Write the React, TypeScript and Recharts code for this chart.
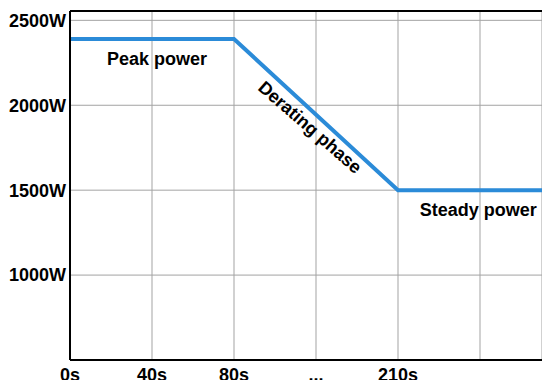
import {
  CartesianGrid,
  Label,
  Line,
  LineChart,
  ReferenceDot,
  ReferenceLine,
  XAxis,
  YAxis,
} from "recharts";

const TIME_STEPS = [0, 2, 4, 5.756];
const POWER_W = [2390, 2390, 1500, 1500];

const X_TICKS = [0, 1, 2, 3, 4, 5];
const X_LABELS = ["0s", "40s", "80s", "...", "210s", ""];
const Y_TICKS = [1000, 1500, 2000, 2500];

const X_MAX = 5.756;
const Y_MIN = 500;
const Y_MAX = 2555;

const NOTES = [
  { t: 1.06, p: 2275, text: "Peak power", angle: 0 },
  { t: 2.93, p: 1872, text: "Derating phase", angle: 41 },
  { t: 4.98, p: 1383, text: "Steady power", angle: 0 },
];

const FONT = "'Liberation Sans', Arial, sans-serif";
const tickStyle = { fontFamily: FONT, fontWeight: 700, fontSize: 18, fill: "#000" };

export default function App() {
  const data = TIME_STEPS.map((t, i) => ({ t, p: POWER_W[i] }));

  return (
    <div style={{ position: "absolute", left: 0, top: 0, width: 542, height: 380, background: "#fff" }}>
      <LineChart width={542} height={380} data={data} margin={{ top: 11, right: 0, bottom: 0, left: 0 }}>
        <CartesianGrid stroke="#a3a3a3" strokeWidth={1} />
        <XAxis
          dataKey="t"
          type="number"
          domain={[0, X_MAX]}
          ticks={X_TICKS}
          tickFormatter={(v: number) => X_LABELS[X_TICKS.indexOf(v)] ?? ""}
          height={20}
          tickLine={false}
          axisLine={{ stroke: "#000", strokeWidth: 2 }}
          tick={tickStyle}
          interval={0}
        />
        <YAxis
          type="number"
          domain={[Y_MIN, Y_MAX]}
          ticks={Y_TICKS}
          tickFormatter={(v: number) => `${v}W`}
          width={70}
          tickLine={false}
          tickSize={0}
          tickMargin={4}
          axisLine={{ stroke: "#000", strokeWidth: 2 }}
          tick={tickStyle}
          interval={0}
        />
        <ReferenceLine y={Y_MAX} stroke="#000" strokeWidth={2} />
        <Line
          dataKey="p"
          stroke="#2b8bd8"
          strokeWidth={4}
          dot={false}
          isAnimationActive={false}
          strokeLinejoin="miter"
        />
        {NOTES.map((n) => (
          <ReferenceDot key={n.text} x={n.t} y={n.p} r={0} stroke="none" fill="none">
            <Label
              value={n.text}
              position="center"
              angle={n.angle}
              style={{ fontFamily: FONT, fontWeight: 700, fontSize: 18, fill: "#000" }}
            />
          </ReferenceDot>
        ))}
      </LineChart>
    </div>
  );
}
